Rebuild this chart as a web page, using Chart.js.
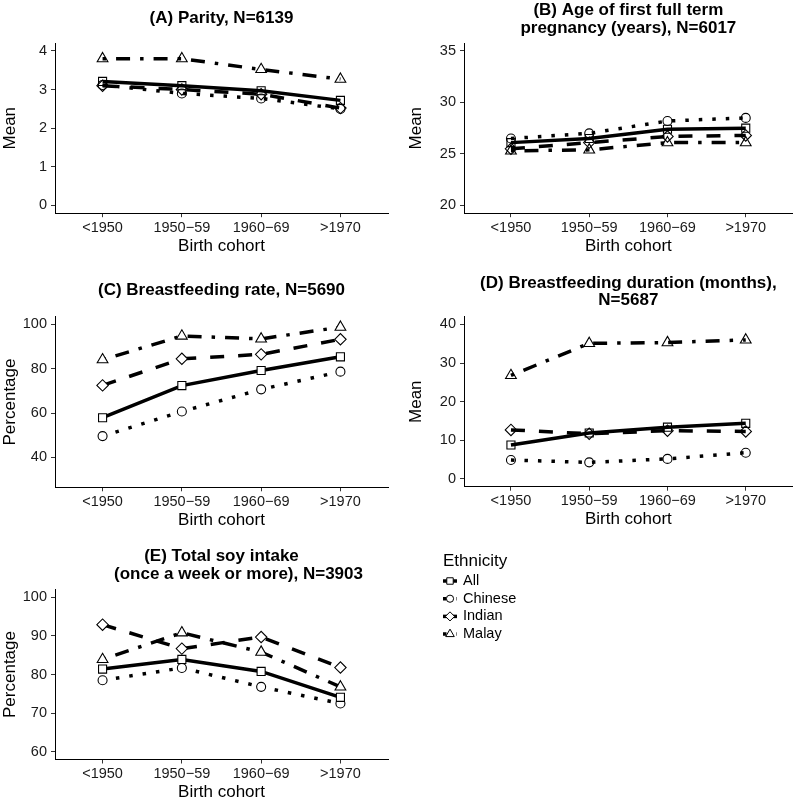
<!DOCTYPE html>
<html lang="en">
<head>
<meta charset="UTF-8">
<title>Reproductive factors by birth cohort</title>
<script src="https://cdn.jsdelivr.net/npm/chart.js@4"></script>
<style>
  html, body { margin: 0; padding: 0; background: #fff; overflow: hidden; }
  body { width: 800px; height: 801px; position: relative; }
  canvas { position: absolute; }
</style>
</head>
<body>
<canvas id="chartA" width="400" height="270" style="left:0;top:0"></canvas>
<canvas id="chartB" width="400" height="270" style="left:400px;top:0"></canvas>
<canvas id="chartC" width="400" height="270" style="left:0;top:270px"></canvas>
<canvas id="chartD" width="400" height="270" style="left:400px;top:270px"></canvas>
<canvas id="chartE" width="800" height="270" style="left:0;top:540px"></canvas>

<script>
const cohorts = ['<1950', '1950\u221259', '1960\u221269', '>1970'];
const groups = ['All', 'Chinese', 'Indian', 'Malay'];

// (A) parity, mean
const parityAll = [3.21, 3.10, 2.97, 2.72];
const parityChinese = [3.12, 2.90, 2.77, 2.50];
const parityIndian = [3.10, 3.00, 2.88, 2.52];
const parityMalay = [3.80, 3.80, 3.52, 3.27];
const parityTicks = [0, 1, 2, 3, 4];

// (B) age at first full term pregnancy, mean
const ageAll = [26.1, 26.5, 27.4, 27.5];
const ageChinese = [26.5, 27.0, 28.2, 28.5];
const ageIndian = [25.5, 26.1, 26.7, 26.8];
const ageMalay = [25.3, 25.4, 26.1, 26.1];
const ageTicks = [20, 25, 30, 35];

// (C) breastfeeding rate, %
const bfRateAll = [57.9, 72.4, 79.2, 85.4];
const bfRateChinese = [49.6, 60.7, 70.7, 78.7];
const bfRateIndian = [72.5, 84.5, 86.5, 93.3];
const bfRateMalay = [84.1, 94.8, 93.5, 98.8];
const bfRateTicks = [40, 60, 80, 100];

// (D) breastfeeding duration, mean months
const bfDurAll = [8.8, 11.9, 13.4, 14.4];
const bfDurChinese = [4.9, 4.3, 5.2, 6.8];
const bfDurIndian = [12.7, 11.7, 12.5, 12.3];
const bfDurMalay = [26.8, 35.1, 35.3, 36.0];
const bfDurTicks = [0, 10, 20, 30, 40];

// (E) soy intake once a week or more, %
const soyAll = [81.4, 83.9, 80.8, 74.1];
const soyChinese = [78.5, 81.7, 76.8, 72.5];
const soyIndian = [92.9, 86.7, 89.7, 81.8];
const soyMalay = [83.9, 90.8, 85.8, 76.8];
const soyTicks = [60, 70, 80, 90, 100];

const FONT = '"Liberation Sans", Arial, Helvetica, sans-serif';
Chart.defaults.font.family = FONT;
Chart.defaults.color = '#000';

// linetypes / shapes like ggplot: solid, dotted, dashed, dotdash
const lineDash = [[], [3.5, 10], [14, 14], [3.5, 10, 14, 10]];
const pointShape = ['rect', 'circle', 'rectRot', 'triangle'];
const pointSize = [5.7, 4.5, 5.7, 6.2];

// title centred over the plotting panel, not the whole canvas
const panelTitle = {
  id: 'panelTitle',
  afterDraw(chart, args, o) {
    if (!o || !o.lines) return;
    const {ctx, chartArea} = chart;
    const cx = (chartArea.left + chartArea.right) / 2;
    ctx.save();
    ctx.font = 'bold 17px ' + FONT;
    ctx.fillStyle = '#000';
    ctx.textAlign = 'center';
    ctx.textBaseline = 'middle';
    o.lines.forEach((t, i) => ctx.fillText(t, cx + (o.dx ? o.dx[i] : 0), o.y[i]));
    ctx.restore();
  }
};

// ggplot-style legend with line + marker keys
const ethLegend = {
  id: 'ethLegend',
  afterDraw(chart, args, o) {
    if (!o || !o.title) return;
    const ctx = chart.ctx;
    ctx.save();
    ctx.fillStyle = '#000';
    ctx.textBaseline = 'middle';
    ctx.textAlign = 'left';
    ctx.font = '17px ' + FONT;
    ctx.fillText(o.title, o.x, o.y);
    chart.data.datasets.forEach((ds, i) => {
      const y = o.firstY + i * o.rowH;
      ctx.strokeStyle = '#000';
      ctx.lineWidth = ds.borderWidth;
      ctx.lineCap = 'butt';
      ctx.setLineDash(ds.borderDash);
      ctx.beginPath();
      ctx.moveTo(o.x, y);
      ctx.lineTo(o.x + o.keyW, y);
      ctx.stroke();
      ctx.setLineDash([]);
      ctx.fillStyle = '#fff';
      ctx.lineWidth = 1;
      Chart.helpers.drawPoint(ctx, {pointStyle: ds.pointStyle, radius: ds.pointRadius * 0.8, rotation: 0, borderWidth: 1}, o.x + o.keyW / 2, y);
      ctx.fillStyle = '#000';
      ctx.font = '14.5px ' + FONT;
      ctx.fillText(ds.label, o.x + o.keyW + 6, y);
    });
    ctx.restore();
  }
};

Chart.register(panelTitle, ethLegend);

function makePanel(id, p) {
  const datasets = groups.map((g, i) => ({
    label: g,
    data: p.series[i].map((v, k) => ({x: k + 1, y: v})),
    borderColor: '#000',
    borderWidth: 3.5,
    borderDash: lineDash[i],
    borderCapStyle: 'butt',
    pointStyle: pointShape[i],
    pointRadius: pointSize[i],
    pointBorderWidth: 1.1,
    pointBorderColor: '#000',
    pointBackgroundColor: p.fill,
    tension: 0,
    fill: false
  }));

  return new Chart(document.getElementById(id), {
    type: 'line',
    data: {datasets},
    options: {
      responsive: false,
      animation: false,
      events: [],
      layout: {padding: p.pad},
      plugins: {
        legend: {display: false},
        tooltip: {enabled: false},
        title: {display: false},
        panelTitle: {lines: p.title, y: p.titleY, dx: p.titleDx},
        ethLegend: p.legend || {}
      },
      scales: {
        x: {
          type: 'linear',
          min: 0.4,
          max: 4.6,
          afterBuildTicks: s => { s.ticks = cohorts.map((c, i) => ({value: i + 1})); },
          afterFit: s => { s.height = 43.2; },
          ticks: {
            callback: v => cohorts[v - 1],
            font: {size: 14.5},
            color: '#1a1a1a',
            padding: 2,
            maxRotation: 0,
            autoSkip: false
          },
          grid: {display: true, drawOnChartArea: false, drawTicks: true, tickLength: 4, color: '#333', lineWidth: 1},
          border: {display: true, color: '#000', width: 1},
          title: {display: true, text: 'Birth cohort', font: {size: 17}, padding: 0, color: '#000'}
        },
        y: {
          type: 'linear',
          min: p.yMin,
          max: p.yMax,
          afterBuildTicks: s => { s.ticks = p.yTicks.map(v => ({value: v})); },
          afterFit: s => { s.width = p.yWidth; },
          ticks: {font: {size: 14.5}, color: '#1a1a1a', padding: 4},
          grid: {display: true, drawOnChartArea: false, drawTicks: true, tickLength: 4, color: '#333', lineWidth: 1},
          border: {display: true, color: '#000', width: 1},
          title: {display: true, text: p.yLabel, font: {size: 17}, padding: 0, color: '#000'}
        }
      }
    }
  });
}

makePanel('chartA', {
  title: ['(A) Parity, N=6139'], titleY: [18],
  yLabel: 'Mean', yTicks: parityTicks, yMin: -0.2, yMax: 4.2,
  series: [parityAll, parityChinese, parityIndian, parityMalay],
  fill: 'rgba(0,0,0,0)',
  yWidth: 55, pad: {left: 0, right: 12, top: 43.2, bottom: 13.6}
});

makePanel('chartB', {
  title: ['(B) Age of first full term', 'pregnancy (years), N=6017'], titleY: [10, 28.3],
  yLabel: 'Mean', yTicks: ageTicks, yMin: 19.25, yMax: 35.75,
  series: [ageAll, ageChinese, ageIndian, ageMalay],
  fill: 'rgba(0,0,0,0)',
  yWidth: 57.5, pad: {left: 6.5, right: 2, top: 43.2, bottom: 13.6}
});

makePanel('chartC', {
  title: ['(C) Breastfeeding rate, N=5690'], titleY: [20],
  yLabel: 'Percentage', yTicks: bfRateTicks, yMin: 26.5, yMax: 103.5,
  series: [bfRateAll, bfRateChinese, bfRateIndian, bfRateMalay],
  fill: '#fff',
  yWidth: 55, pad: {left: 0, right: 12, top: 46.7, bottom: 9.5}
});

makePanel('chartD', {
  title: ['(D) Breastfeeding duration (months),', 'N=5687'], titleY: [13.3, 30.7],
  yLabel: 'Mean', yTicks: bfDurTicks, yMin: -2, yMax: 42,
  series: [bfDurAll, bfDurChinese, bfDurIndian, bfDurMalay],
  fill: 'rgba(0,0,0,0)',
  yWidth: 57.5, pad: {left: 6.5, right: 2, top: 46.7, bottom: 10.1}
});

makePanel('chartE', {
  title: ['(E) Total soy intake', '(once a week or more), N=3903'], titleY: [16, 34], titleDx: [0, 17],
  yLabel: 'Percentage', yTicks: soyTicks, yMin: 58, yMax: 102,
  series: [soyAll, soyChinese, soyIndian, soyMalay],
  fill: '#fff',
  yWidth: 55, pad: {left: 0, right: 412, top: 49.5, bottom: 7.3},
  legend: {title: 'Ethnicity', x: 443, y: 21.7, firstY: 41, rowH: 17.7, keyW: 14}
});
</script>
</body>
</html>
